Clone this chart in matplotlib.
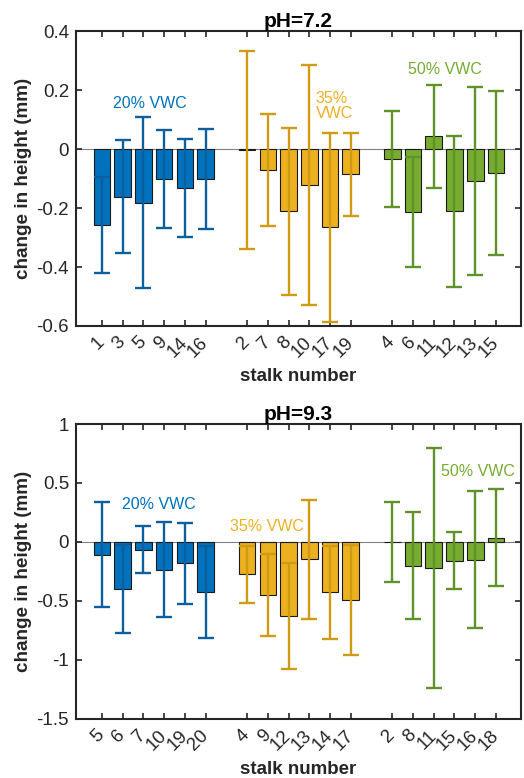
import numpy as np
import matplotlib
matplotlib.use("Agg")
import matplotlib.pyplot as plt

plt.rcParams["font.family"] = ["Liberation Sans", "DejaVu Sans"]

# colours (MATLAB default order)
bar_colors = ["#0072BD", "#EDB120", "#77AC30"]
err_colors = ["#0b5f9f", "#cf9a14", "#5f9228"]
group_labels = ["20% VWC", "35% VWC", "50% VWC"]

# --- pH = 7.2 ---
stalks_72 = [[1, 3, 5, 9, 14, 16], [2, 7, 8, 10, 17, 19], [4, 6, 11, 12, 13, 15]]
mean_72 = [[-0.258, -0.161, -0.182, -0.102, -0.132, -0.102],
           [-0.003, -0.070, -0.211, -0.122, -0.265, -0.086],
           [-0.034, -0.214, 0.043, -0.211, -0.108, -0.080]]
err_72 = [[0.162, 0.192, 0.290, 0.165, 0.165, 0.170],
          [0.336, 0.190, 0.283, 0.406, 0.320, 0.141],
          [0.162, 0.187, 0.175, 0.257, 0.318, 0.278]]

# --- pH = 9.3 ---
stalks_93 = [[5, 6, 7, 10, 19, 20], [4, 9, 12, 13, 14, 17], [2, 8, 11, 15, 16, 18]]
mean_93 = [[-0.107, -0.397, -0.065, -0.234, -0.182, -0.425],
           [-0.273, -0.448, -0.631, -0.147, -0.428, -0.492],
           [0.000, -0.203, -0.222, -0.160, -0.152, 0.037]]
err_93 = [[0.448, 0.372, 0.197, 0.400, 0.345, 0.390],
          [0.242, 0.347, 0.450, 0.503, 0.397, 0.468],
          [0.342, 0.454, 1.020, 0.243, 0.580, 0.410]]

positions = [[1, 2, 3, 4, 5, 6], [8, 9, 10, 11, 12, 13], [15, 16, 17, 18, 19, 20]]

fig = plt.figure(figsize=(5.24, 7.78), dpi=100)
ax1 = fig.add_axes([0.145, 0.581, 0.849, 0.379])
ax2 = fig.add_axes([0.145, 0.076, 0.849, 0.379])

dark = "#262626"


def draw_panel(ax, stalks, means, errs, title, ylim, yticks, texts, text_pos):
    ax.axhline(0, color="#808080", lw=0.8, zorder=1)
    ticks = []
    labels = []
    for g in range(3):
        ax.bar(positions[g], means[g], width=0.8, color=bar_colors[g],
               edgecolor="#1a1a1a", linewidth=0.8, zorder=2)
        ax.errorbar(positions[g], means[g], yerr=errs[g], fmt="none",
                    ecolor=err_colors[g], elinewidth=1.7, capsize=5.5,
                    capthick=1.7, zorder=3)
        ticks += positions[g]
        labels += [str(s) for s in stalks[g]]
        tx, ty = text_pos[g]
        ax.text(tx, ty, texts[g], color=bar_colors[g], fontsize=11.5,
                ha="left", va="center", linespacing=1.0, zorder=4)
    ax.set_xlim(-0.25, 21.2)
    ax.set_ylim(*ylim)
    ax.set_yticks(yticks)
    ax.set_yticklabels([("%g" % t) for t in yticks])
    ax.set_xticks(ticks)
    ax.set_xticklabels(labels, rotation=45, ha="right", va="center",
                       rotation_mode="anchor")
    ax.tick_params(direction="in", length=4, width=1.2, top=True, right=True,
                   colors=dark, labelsize=13.5, pad=5)
    ax.tick_params(axis="x", pad=10)
    for sp in ax.spines.values():
        sp.set_linewidth(1.5)
        sp.set_color(dark)
    ax.set_title(title, fontsize=15, fontweight="bold", pad=3)
    ax.set_xlabel("stalk number", fontsize=13.5, fontweight="bold", color=dark,
                  labelpad=5)
    ax.set_ylabel("change in height (mm)", fontsize=13.6, fontweight="bold",
                  color=dark, labelpad=3)


draw_panel(ax1, stalks_72, mean_72, err_72, "pH=7.2", (-0.6, 0.4),
           [-0.6, -0.4, -0.2, 0, 0.2, 0.4],
           ["20% VWC", "35%\nVWC", "50% VWC"],
           [(1.55, 0.155), (11.3, 0.145), (15.77, 0.27)])
draw_panel(ax2, stalks_93, mean_93, err_93, "pH=9.3", (-1.5, 1),
           [-1.5, -1, -0.5, 0, 0.5, 1],
           group_labels,
           [(1.96, 0.316), (7.18, 0.13), (17.35, 0.595)])

fig.savefig("out.png", dpi=100)
